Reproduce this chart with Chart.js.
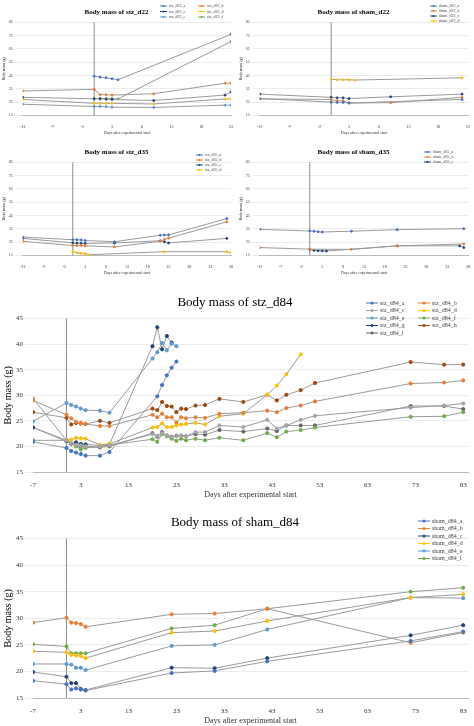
<!DOCTYPE html>
<html>
<head>
<meta charset="utf-8">
<script src="https://cdn.jsdelivr.net/npm/chart.js@4.4.0/dist/chart.umd.min.js"></script>
<style>
  body { margin:0; background:#fff; width:474px; height:726px; position:relative; overflow:hidden; }
  .box { position:absolute; }
</style>
</head>
<body>
<div class="box" style="left:0;top:0;width:237px;height:135px"><canvas id="c1"></canvas></div>
<div class="box" style="left:237px;top:0;width:237px;height:135px"><canvas id="c2"></canvas></div>
<div class="box" style="left:0;top:140px;width:237px;height:135px"><canvas id="c3"></canvas></div>
<div class="box" style="left:237px;top:140px;width:237px;height:135px"><canvas id="c4"></canvas></div>
<div class="box" style="left:0;top:283px;width:474px;height:217px"><canvas id="c5"></canvas></div>
<div class="box" style="left:0;top:503px;width:474px;height:223px"><canvas id="c6"></canvas></div>
<script>
// colours
var cA = '#4472C4', cB = '#ED7D31', cC = '#A5A5A5', cD = '#FFC000', cE = '#5B9BD5',
    cF = '#70AD47', cG = '#264478', cH = '#9E480E', cI = '#636363';

// tick labels
var d22Ticks = [-12, -7, -2, 3, 8, 13, 18, 23];
var d35Ticks = [-12, -7, -2, 3, 8, 13, 18, 23, 28, 33, 38];
var d84Ticks = [-7, 3, 13, 23, 33, 43, 53, 63, 73, 83];

// ---- stz_d22 ----
var stzD22a = [[0,44.5],[1,43.8],[2,43.3],[3,42.6],[4,41.8],[23,76]];
var stzD22b = [[-12,33.4],[0,34.6],[1,30.6],[2,30.6],[3,30.3],[10,31.3],[22,39.2],[23,39.2]];
var stzD22c = [[-12,28.6],[0,27.5],[1,27.5],[2,27.2],[3,27],[10,26.2],[22,30.3],[23,32.7]];
var stzD22d = [[-12,27],[0,24.1],[1,24.1],[2,24.1],[3,24.1],[10,23.6],[22,27.4],[23,27.4]];
var stzD22e = [[-12,23.4],[0,21.7],[1,21.7],[2,21.6],[3,21.2],[10,21],[22,22.7],[23,22.7]];
var stzD22f = [[0,27.7],[1,27.7],[2,27.7],[3,27.7],[4,27.4],[23,70.6]];
// ---- sham_d22 ----
var shamD22a = [[-12,27.7],[0,25],[1,24.8],[2,24.8],[3,24.3],[22,27]];
var shamD22b = [[-12,27.4],[0,27],[1,26],[2,26],[3,24.3],[10,24.6],[22,28.6]];
var shamD22c = [[-12,31],[0,28.6],[1,28.2],[2,28.2],[3,27.7],[10,29],[22,31]];
var shamD22d = [[0,42.1],[1,41.8],[2,41.8],[3,41.8],[4,41.6],[22,43.3]];
// ---- stz_d35 ----
var stzD35a = [[-12,28.8],[0,26.8],[1,26.8],[2,26.6],[3,26.2],[10,25.3],[21,30.2],[22,30.4],[23,30.4],[37,42.7]];
var stzD35b = [[-12,25.6],[0,22.4],[1,22.4],[2,22.4],[3,22.2],[10,21.4],[21,25.6],[22,27],[23,28],[37,40.3]];
var stzD35c = [[-12,27.8],[0,24.4],[1,24.2],[2,24.2],[3,24],[10,24.4],[21,26],[22,25.2],[23,24.4],[37,27.8]];
var stzD35d = [[0,17.8],[1,17],[2,16.5],[3,16.3],[4,15.5],[22,17.8],[37,17.8],[38,17]];
// ---- sham_d35 ----
var shamD35a = [[-12,34.6],[0,33.4],[1,33.2],[2,32.8],[3,32.6],[10,33.2],[21,34.4],[37,35.1]];
var shamD35b = [[-12,20.9],[0,19.7],[10,19.5],[21,22.2],[37,23.6]];
var shamD35c = [[0,19.5],[1,18.8],[2,18.5],[3,18.5],[4,18.3],[21,22.2],[36,22.2],[37,20.9]];
// ---- stz_d84 ----
var stzD84a = [[-7,20.9],[0,19.7],[1,19.1],[2,18.8],[3,18.5],[4,18.2],[7,18.2],[9,18.9],[19,29.8],[20,32],[21,33.9],[22,35.4],[23,36.6]];
var stzD84b = [[-7,29],[0,26.2],[1,25.5],[2,24.8],[3,24.6],[4,24.4],[7,24],[9,24],[18,26.2],[19,25.7],[20,26.4],[21,25.7],[22,25.7],[23,24.7],[24,25.7],[25,25.5],[27,25.7],[29,25.6],[32,26.4],[37,26.6],[42,27],[44,26.7],[46,27.5],[49,28],[52,28.8],[72,32.3],[79,32.5],[83,32.9]];
var stzD84c = [[-7,29.4],[0,21.2],[1,20.6],[2,20.3],[3,20.2],[4,20],[7,20],[9,20.2],[18,22.4],[19,22.1],[20,22.6],[21,22.2],[22,21.9],[23,22],[24,22.1],[25,22],[27,22.8],[29,22.8],[32,24.1],[37,23.8],[42,25.2],[44,23.5],[46,24.1],[49,25.2],[52,26],[72,27.6],[79,28],[83,28.4]];
var stzD84d = [[0,21.3],[1,21.3],[2,21.7],[3,21.6],[4,21.5],[7,20.3],[9,20.5],[18,23.7],[19,23.8],[20,24.5],[21,23.8],[22,23.8],[23,24.1],[24,24.3],[25,24.4],[27,24.6],[29,24.3],[32,25.9],[37,26.4],[42,30.1],[44,31.9],[46,34.1],[49,38]];
var stzD84e = [[-7,24.9],[0,28.5],[1,28.1],[2,27.8],[3,27.4],[4,27.1],[7,27],[9,26.6],[18,37.2],[19,38.4],[20,40.2],[21,38.8],[22,40.1],[23,39.6]];
var stzD84f = [[-7,21.2],[0,21.2],[1,20.6],[2,20],[3,19.4],[4,19.7],[7,20],[9,20.3],[18,21.4],[19,20.9],[20,22.4],[21,22],[22,21.5],[23,21.1],[24,21.5],[25,21.2],[27,21.5],[29,21.2],[32,21.7],[37,21.2],[42,22.6],[44,21.8],[46,22.9],[49,23.2],[52,23.7],[72,25.8],[79,25.9],[83,26.7]];
var stzD84g = [[-7,23.7],[0,21.2],[1,20.6],[2,20.8],[3,20.5],[4,20.4],[7,20.2],[9,20.4],[18,39.6],[19,43.3],[20,39],[21,41.6],[22,40.3]];
var stzD84h = [[-7,26.7],[0,25.6],[1,24.3],[2,24.6],[3,24.5],[4,24.4],[7,25],[9,24.6],[18,27.4],[19,27.1],[20,28.7],[21,27.9],[22,27.8],[23,26.7],[24,27.4],[25,27.3],[27,28],[29,28.1],[32,29.3],[37,28.7],[42,30.1],[44,29],[46,30.1],[49,31],[52,32.4],[72,36.5],[79,36],[83,36]];
var stzD84i = [[-7,23.7],[0,21],[1,20.5],[2,20.2],[3,20],[4,19.9],[7,19.8],[9,20],[18,22.6],[19,21.9],[20,22.8],[21,22.1],[22,21.9],[23,22.1],[24,22.1],[25,22],[27,22.4],[29,22.3],[32,23.2],[37,22.9],[42,23.5],[44,23],[46,24.1],[49,24.1],[52,24.1],[72,27.9],[79,27.9],[83,27.3]];
// ---- sham_d84 ----
var shamD84a = [[-7,18.25],[0,17.6],[1,16.6],[2,16.8],[3,16.6],[4,16.4],[22,19.7],[31,20.1],[42,21.9],[72,25.75],[83,27.5]];
var shamD84b = [[-7,29.2],[0,30.1],[1,29.2],[2,29.1],[3,28.9],[4,28.4],[22,30.75],[31,30.9],[42,31.8],[72,25.4],[83,27.3]];
var shamD84c = [[-7,19.9],[0,19],[1,17.8],[2,17.8],[3,16.7],[4,16.5],[22,20.7],[31,20.6],[42,22.5],[72,26.8],[83,28.7]];
var shamD84d = [[-7,23.8],[0,23.6],[1,23.1],[2,23],[3,22.9],[4,22.5],[22,27.3],[31,27.6],[42,29.5],[72,33.9],[83,34.5]];
var shamD84e = [[-7,21.4],[0,21.4],[1,21.3],[2,20.7],[3,20.7],[4,20.25],[22,24.8],[31,25],[42,27.9],[72,33.9],[83,33.8]];
var shamD84f = [[-7,25.1],[0,24.7],[1,23.4],[2,23.4],[3,23.4],[4,23.4],[22,28.1],[31,28.7],[42,31.8],[72,35],[83,35.75]];

var serif = "'Liberation Serif', 'DejaVu Serif', serif";

// vertical axis line drawn at x = 0
var zeroAxis = {
  id: 'zeroAxis',
  beforeDatasetsDraw: function(chart) {
    var x = chart.scales.x.getPixelForValue(0), a = chart.chartArea, ctx = chart.ctx;
    ctx.save();
    ctx.strokeStyle = '#8c8c8c';
    ctx.lineWidth = 1;
    ctx.beginPath(); ctx.moveTo(x, a.top); ctx.lineTo(x, a.bottom); ctx.stroke();
    ctx.restore();
  }
};

// legend in the top right corner, Excel-like (line + marker + text)
var cornerLegend = {
  id: 'cornerLegend',
  afterDraw: function(chart, args, o) {
    var ctx = chart.ctx, sets = chart.data.datasets;
    ctx.save();
    ctx.font = o.size + 'px ' + serif;
    ctx.textBaseline = 'middle';
    sets.forEach(function(d, i) {
      var col = i % o.cols, row = Math.floor(i / o.cols);
      var x = o.x + col * o.colW, y = o.y + row * o.rowH;
      ctx.strokeStyle = d.pointBackgroundColor; ctx.lineWidth = 1;
      ctx.beginPath(); ctx.moveTo(x, y); ctx.lineTo(x + o.lineW, y); ctx.stroke();
      ctx.fillStyle = d.pointBackgroundColor;
      ctx.beginPath(); ctx.arc(x + o.lineW / 2, y, o.size / 4, 0, Math.PI * 2); ctx.fill();
      ctx.fillStyle = '#444';
      ctx.fillText(d.label, x + o.lineW + 2, y);
    });
    ctx.restore();
  }
};

function ds(label, pts, color, r) {
  return {
    label: label,
    data: pts.map(function(p) { return {x: p[0], y: p[1]}; }),
    borderColor: '#9a9a9a', backgroundColor: color,
    pointBackgroundColor: color, pointBorderColor: color,
    pointRadius: r, borderWidth: 1, showLine: true
  };
}

function makeChart(id, title, sets, xTicks, xmax, ymin, ymax, ystep, big, leg) {
  var fs = big ? 7 : 4;
  new Chart(document.getElementById(id), {
    type: 'scatter',
    data: { datasets: sets },
    plugins: [zeroAxis, cornerLegend],
    options: {
      responsive: true, maintainAspectRatio: false, animation: false,
      layout: { padding: { left: 2, right: 6, top: 0, bottom: 0 } },
      plugins: {
        title: { display: true, text: title, color: '#000',
                 font: { family: serif, size: big ? 13 : 7, weight: big ? 'normal' : 'bold' },
                 padding: { top: big ? 12 : 8, bottom: big ? 8 : 6 } },
        legend: { display: false },
        cornerLegend: leg,
        tooltip: { enabled: false }
      },
      scales: {
        x: { type: 'linear', min: xTicks[0], max: xmax,
             grid: { display: false }, border: { color: '#bbb' },
             afterBuildTicks: function(s) { s.ticks = xTicks.map(function(v) { return {value: v}; }); },
             ticks: { color: '#333', font: { family: serif, size: fs }, maxRotation: 0, padding: 1, autoSkip: false },
             title: { display: true, text: 'Days after experimental start', color: '#333',
                      font: { family: serif, size: big ? 8 : 4 }, padding: 0 } },
        y: { min: ymin, max: ymax,
             grid: { color: '#ececec' }, border: { display: false },
             ticks: { stepSize: ystep, color: '#333', font: { family: serif, size: fs }, padding: 2 },
             title: { display: true, text: 'Body mass (g)', color: '#000',
                      font: { family: serif, size: big ? 10 : 4 }, padding: 0 } }
      }
    }
  });
}

makeChart('c1', 'Body mass of stz_d22', [
  ds('stz_d22_a', stzD22a, cA, 1), ds('stz_d22_b', stzD22b, cB, 1),
  ds('stz_d22_c', stzD22c, cG, 1), ds('stz_d22_d', stzD22d, cD, 1),
  ds('stz_d22_e', stzD22e, cE, 1), ds('stz_d22_f', stzD22f, cF, 1)
], d22Ticks, 23, 15, 85, 10, false, {x: 160, y: 6, cols: 2, colW: 38, rowH: 5.5, lineW: 7, size: 4});

makeChart('c2', 'Body mass of sham_d22', [
  ds('sham_d22_a', shamD22a, cA, 1), ds('sham_d22_b', shamD22b, cB, 1),
  ds('sham_d22_c', shamD22c, cG, 1), ds('sham_d22_d', shamD22d, cD, 1)
], d22Ticks, 23, 15, 85, 10, false, {x: 193, y: 6, cols: 1, colW: 0, rowH: 5, lineW: 7, size: 4});

makeChart('c3', 'Body mass of stz_d35', [
  ds('stz_d35_a', stzD35a, cA, 1), ds('stz_d35_b', stzD35b, cB, 1),
  ds('stz_d35_c', stzD35c, cG, 1), ds('stz_d35_d', stzD35d, cD, 1)
], d35Ticks, 38, 15, 85, 10, false, {x: 196, y: 15, cols: 1, colW: 0, rowH: 5, lineW: 7, size: 4});

makeChart('c4', 'Body mass of sham_d35', [
  ds('sham_d35_a', shamD35a, cA, 1), ds('sham_d35_b', shamD35b, cB, 1),
  ds('sham_d35_c', shamD35c, cG, 1)
], d35Ticks, 38, 15, 85, 10, false, {x: 187, y: 12, cols: 1, colW: 0, rowH: 5, lineW: 7, size: 4});

makeChart('c5', 'Body mass of stz_d84', [
  ds('stz_d84_a', stzD84a, cA, 1.6), ds('stz_d84_b', stzD84b, cB, 1.6),
  ds('stz_d84_c', stzD84c, cC, 1.6), ds('stz_d84_d', stzD84d, cD, 1.6),
  ds('stz_d84_e', stzD84e, cE, 1.6), ds('stz_d84_f', stzD84f, cF, 1.6),
  ds('stz_d84_g', stzD84g, cG, 1.6), ds('stz_d84_h', stzD84h, cH, 1.6),
  ds('stz_d84_i', stzD84i, cI, 1.6)
], d84Ticks, 84, 15, 45, 5, true, {x: 366, y: 20, cols: 2, colW: 52, rowH: 7.5, lineW: 12, size: 6});

makeChart('c6', 'Body mass of sham_d84', [
  ds('sham_d84_a', shamD84a, cA, 1.6), ds('sham_d84_b', shamD84b, cB, 1.6),
  ds('sham_d84_c', shamD84c, cG, 1.6), ds('sham_d84_d', shamD84d, cD, 1.6),
  ds('sham_d84_e', shamD84e, cE, 1.6), ds('sham_d84_f', shamD84f, cF, 1.6)
], d84Ticks, 84, 15, 45, 5, true, {x: 418, y: 18, cols: 1, colW: 0, rowH: 7.5, lineW: 12, size: 6});
</script>
</body>
</html>
